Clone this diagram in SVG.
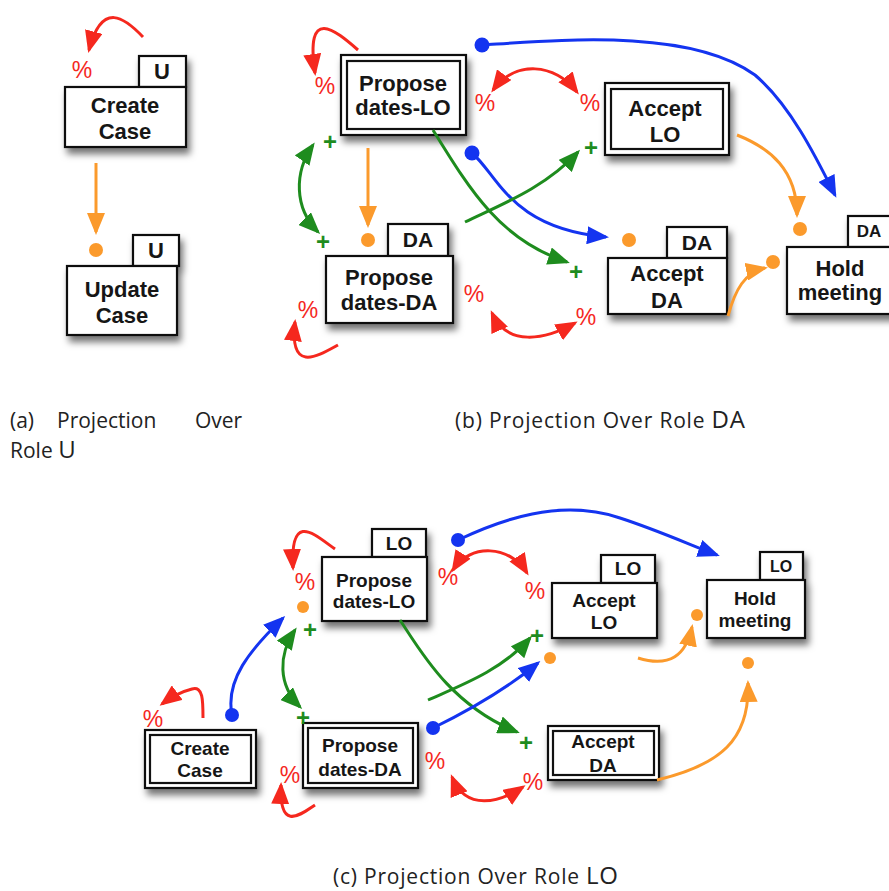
<svg xmlns="http://www.w3.org/2000/svg" width="889" height="891" viewBox="0 0 889 891">
<style>
.box{fill:#fff;stroke:#111;stroke-width:2.2}
.lbl{font-family:"Liberation Sans",Arial,sans-serif;font-weight:bold;fill:#161616;text-anchor:middle}
.pct{font-family:"Liberation Sans",Arial,sans-serif;font-size:23px;fill:#f5281e;text-anchor:middle}
.plus{font-family:"Liberation Sans",Arial,sans-serif;font-size:24px;font-weight:bold;fill:#1e8c1e;text-anchor:middle}
.cap{font-family:"Open Sans","Noto Sans",sans-serif;font-size:21px;fill:#222}
.r{fill:none;stroke:#f5281e;stroke-width:3}
.o{fill:none;stroke:#fb9a2c;stroke-width:3}
.b{fill:none;stroke:#1434f0;stroke-width:3}
.g{fill:none;stroke:#1e8c1e;stroke-width:3}
.od{fill:#fb9a2c}
.bd{fill:#1434f0}
</style>
<defs>
<filter id="sh" x="-20%" y="-20%" width="150%" height="170%"><feDropShadow dx="3" dy="6" stdDeviation="3.5" flood-color="#000" flood-opacity="0.55"/></filter>
<marker id="mr" viewBox="0 0 22 18" refX="19" refY="9" markerWidth="22" markerHeight="18" markerUnits="userSpaceOnUse" orient="auto-start-reverse"><path d="M0,0 L22,9 L0,18 z" fill="#f5281e"/></marker>
<marker id="mo" viewBox="0 0 22 18" refX="19" refY="9" markerWidth="22" markerHeight="18" markerUnits="userSpaceOnUse" orient="auto-start-reverse"><path d="M0,0 L22,9 L0,18 z" fill="#fb9a2c"/></marker>
<marker id="mb" viewBox="0 0 22 18" refX="19" refY="9" markerWidth="22" markerHeight="18" markerUnits="userSpaceOnUse" orient="auto-start-reverse"><path d="M0,0 L22,9 L0,18 z" fill="#1434f0"/></marker>
<marker id="mg" viewBox="0 0 22 18" refX="19" refY="9" markerWidth="22" markerHeight="18" markerUnits="userSpaceOnUse" orient="auto-start-reverse"><path d="M0,0 L22,9 L0,18 z" fill="#1e8c1e"/></marker>
</defs>
<rect width="889" height="891" fill="#fff"/>

<!-- Panel (a) nodes -->
<g id="a-create-case">
<g filter="url(#sh)"><rect class="box" x="139" y="56" width="47" height="31"/><rect class="box" x="65" y="87" width="121" height="60"/></g>
<text class="lbl" x="162" y="79" font-size="22">U</text>
<text class="lbl" x="125" y="113" font-size="22">Create</text>
<text class="lbl" x="125" y="139" font-size="22">Case</text>
</g>
<g id="a-update-case">
<g filter="url(#sh)"><rect class="box" x="133" y="235" width="46" height="31"/><rect class="box" x="67" y="266" width="110" height="69"/></g>
<text class="lbl" x="156" y="258" font-size="22">U</text>
<text class="lbl" x="122" y="297" font-size="22">Update</text>
<text class="lbl" x="122" y="323" font-size="22">Case</text>
</g>

<!-- Panel (b) nodes -->
<g id="b-propose-lo">
<g filter="url(#sh)"><rect class="box" x="341" y="55" width="125" height="80"/></g>
<rect class="box" x="347" y="61" width="113" height="68"/>
<text class="lbl" x="403" y="91" font-size="22">Propose</text>
<text class="lbl" x="403" y="115" font-size="22">dates-LO</text>
</g>
<g id="b-propose-da">
<g filter="url(#sh)"><rect class="box" x="388" y="224" width="60" height="32"/><rect class="box" x="326" y="256" width="127" height="67"/></g>
<text class="lbl" x="418" y="247" font-size="21">DA</text>
<text class="lbl" x="389" y="285" font-size="22">Propose</text>
<text class="lbl" x="389" y="310" font-size="22">dates-DA</text>
</g>
<g id="b-accept-lo">
<g filter="url(#sh)"><rect class="box" x="605" y="83" width="124" height="72"/></g>
<rect class="box" x="611" y="89" width="112" height="60"/>
<text class="lbl" x="665" y="116" font-size="22">Accept</text>
<text class="lbl" x="665" y="142" font-size="22">LO</text>
</g>
<g id="b-accept-da">
<g filter="url(#sh)"><rect class="box" x="667" y="227" width="60" height="31"/><rect class="box" x="608" y="258" width="119" height="56"/></g>
<text class="lbl" x="697" y="250" font-size="21">DA</text>
<text class="lbl" x="667" y="281" font-size="22">Accept</text>
<text class="lbl" x="667" y="308" font-size="22">DA</text>
</g>
<g id="b-hold-meeting">
<g filter="url(#sh)"><rect class="box" x="848" y="216" width="50" height="31"/><rect class="box" x="787" y="247" width="115" height="67"/></g>
<text class="lbl" x="869" y="237" font-size="17">DA</text>
<text class="lbl" x="840" y="276" font-size="22">Hold</text>
<text class="lbl" x="840" y="300" font-size="22">meeting</text>
</g>

<!-- Panel (c) nodes -->
<g id="c-propose-lo">
<g filter="url(#sh)"><rect class="box" x="372" y="529" width="54" height="28"/><rect class="box" x="322" y="557" width="105" height="64"/></g>
<text class="lbl" x="399" y="550" font-size="19">LO</text>
<text class="lbl" x="374" y="587" font-size="19">Propose</text>
<text class="lbl" x="374" y="608" font-size="19">dates-LO</text>
</g>
<g id="c-create-case">
<g filter="url(#sh)"><rect class="box" x="145" y="730" width="111" height="58"/></g>
<rect class="box" x="150" y="735" width="101" height="48"/>
<text class="lbl" x="200" y="755" font-size="19">Create</text>
<text class="lbl" x="200" y="777" font-size="19">Case</text>
</g>
<g id="c-propose-da">
<g filter="url(#sh)"><rect class="box" x="303" y="723" width="115" height="65"/></g>
<rect class="box" x="308" y="728" width="105" height="55"/>
<text class="lbl" x="360" y="752" font-size="19">Propose</text>
<text class="lbl" x="360" y="776" font-size="19">dates-DA</text>
</g>
<g id="c-accept-lo">
<g filter="url(#sh)"><rect class="box" x="601" y="555" width="54" height="28"/><rect class="box" x="552" y="583" width="105" height="55"/></g>
<text class="lbl" x="628" y="575" font-size="19">LO</text>
<text class="lbl" x="604" y="607" font-size="19">Accept</text>
<text class="lbl" x="604" y="629" font-size="19">LO</text>
</g>
<g id="c-accept-da">
<g filter="url(#sh)"><rect class="box" x="548" y="726" width="111" height="54"/></g>
<rect class="box" x="553" y="731" width="101" height="44"/>
<text class="lbl" x="603" y="748" font-size="19">Accept</text>
<text class="lbl" x="603" y="772" font-size="19">DA</text>
</g>
<g id="c-hold-meeting">
<g filter="url(#sh)"><rect class="box" x="760" y="552" width="43" height="28"/><rect class="box" x="707" y="580" width="98" height="58"/></g>
<text class="lbl" x="781" y="572" font-size="16">LO</text>
<text class="lbl" x="755" y="605" font-size="19">Hold</text>
<text class="lbl" x="755" y="627" font-size="19">meeting</text>
</g>

<!-- Connectors -->
<g id="connectors">
<!-- (a) -->
<path class="r" d="M143,37 C125,18 102,0 89,50" marker-end="url(#mr)"/>
<path class="o" d="M96,163 L96,232" marker-end="url(#mo)"/>
<circle class="od" cx="96" cy="250" r="7"/>
<!-- (b) -->
<path class="r" d="M358,50 C335,30 305,5 315,73" marker-end="url(#mr)"/>
<path class="r" d="M338,345 C318,356 289,374 295,322" marker-end="url(#mr)"/>
<path class="o" d="M368,148 L368,225" marker-end="url(#mo)"/>
<circle class="od" cx="368" cy="240" r="7"/>
<path class="g" d="M313,145 C294,172 294,208 318,232" marker-start="url(#mg)" marker-end="url(#mg)"/>
<path class="b" d="M482,45 C560,40 690,28 755,75 C790,105 815,155 835,195" marker-end="url(#mb)"/>
<circle class="bd" cx="482" cy="45" r="7.5"/>
<path class="r" d="M493,90 C515,60 555,63 577,92" marker-start="url(#mr)" marker-end="url(#mr)"/>
<path class="g" d="M433,130 C470,190 500,240 567,262" marker-end="url(#mg)"/>
<path class="b" d="M472,153 C498,175 510,228 606,237" marker-end="url(#mb)"/>
<circle class="bd" cx="472" cy="153" r="7.5"/>
<path class="g" d="M465,222 C500,205 545,188 578,152" marker-end="url(#mg)"/>
<path class="r" d="M492,313 C507,347 545,340 575,323" marker-start="url(#mr)" marker-end="url(#mr)"/>
<path class="o" d="M737,135 C770,148 797,170 797,215" marker-end="url(#mo)"/>
<circle class="od" cx="800" cy="229" r="7"/>
<path class="o" d="M728,316 C735,290 745,272 765,268" marker-end="url(#mo)"/>
<circle class="od" cx="773" cy="262" r="7"/>
<circle class="od" cx="629" cy="240" r="7"/>
<!-- (c) -->
<path class="r" d="M335,549 C315,535 290,510 293,568" marker-end="url(#mr)"/>
<circle class="od" cx="303" cy="607" r="6"/>
<path class="b" d="M232,715 C225,680 250,650 283,618" marker-end="url(#mb)"/>
<circle class="bd" cx="232" cy="715" r="7"/>
<path class="g" d="M295,630 C278,655 278,685 300,707" marker-start="url(#mg)" marker-end="url(#mg)"/>
<path class="r" d="M203,718 C203,700 203,686 192,689 C180,692 170,698 162,704" marker-end="url(#mr)"/>
<path class="r" d="M315,805 C300,815 279,832 281,785" marker-end="url(#mr)"/>
<path class="g" d="M400,620 C420,650 450,705 517,732" marker-end="url(#mg)"/>
<path class="g" d="M428,700 C462,685 502,670 530,638" marker-end="url(#mg)"/>
<path class="b" d="M433,728 C470,710 505,690 538,663" marker-end="url(#mb)"/>
<circle class="bd" cx="433" cy="728" r="7"/>
<path class="b" d="M458,540 C500,520 560,498 620,518 C660,531 690,545 717,555" marker-end="url(#mb)"/>
<circle class="bd" cx="458" cy="540" r="7"/>
<path class="r" d="M453,570 C470,543 510,545 527,573" marker-start="url(#mr)" marker-end="url(#mr)"/>
<path class="r" d="M452,777 C466,812 500,802 523,787" marker-start="url(#mr)" marker-end="url(#mr)"/>
<circle class="od" cx="550" cy="658" r="6"/>
<path class="o" d="M638,658 C670,668 686,655 692,627" marker-end="url(#mo)"/>
<circle class="od" cx="697" cy="615" r="6"/>
<path class="o" d="M657,780 C720,765 750,740 748,683" marker-end="url(#mo)"/>
<circle class="od" cx="748" cy="663" r="6"/>
</g>

<!-- Labels -->
<g id="labels">
<text class="pct" x="82" y="78">%</text>
<text class="pct" x="325" y="94">%</text>
<text class="pct" x="485" y="111">%</text>
<text class="pct" x="590" y="111">%</text>
<text class="pct" x="308" y="318">%</text>
<text class="pct" x="474" y="302">%</text>
<text class="pct" x="586" y="325">%</text>
<text class="plus" x="330" y="150">+</text>
<text class="plus" x="323" y="250">+</text>
<text class="plus" x="591" y="156">+</text>
<text class="plus" x="576" y="280">+</text>
<text class="pct" x="305" y="590" font-size="20">%</text>
<text class="pct" x="153" y="727" font-size="20">%</text>
<text class="pct" x="290" y="783" font-size="20">%</text>
<text class="pct" x="448" y="585" font-size="20">%</text>
<text class="pct" x="535" y="599" font-size="20">%</text>
<text class="pct" x="435" y="769" font-size="20">%</text>
<text class="pct" x="533" y="790" font-size="20">%</text>
<text class="plus" x="310" y="638" font-size="22">+</text>
<text class="plus" x="303" y="726" font-size="22">+</text>
<text class="plus" x="537" y="644" font-size="22">+</text>
<text class="plus" x="526" y="751" font-size="22">+</text>
</g>

<!-- Captions -->
<g id="captions">
<text class="cap" x="10" y="428">(a)</text>
<text class="cap" x="57" y="428">Projection</text>
<text class="cap" x="195" y="428">Over</text>
<text class="cap" x="10" y="458">Role <tspan font-size="24">U</tspan></text>
<text class="cap" x="455" y="428" textLength="290" lengthAdjust="spacing">(b) Projection Over Role <tspan font-size="24">DA</tspan></text>
<text class="cap" x="333" y="884" textLength="285" lengthAdjust="spacing">(c) Projection Over Role <tspan font-size="24">LO</tspan></text>
</g>
</svg>
